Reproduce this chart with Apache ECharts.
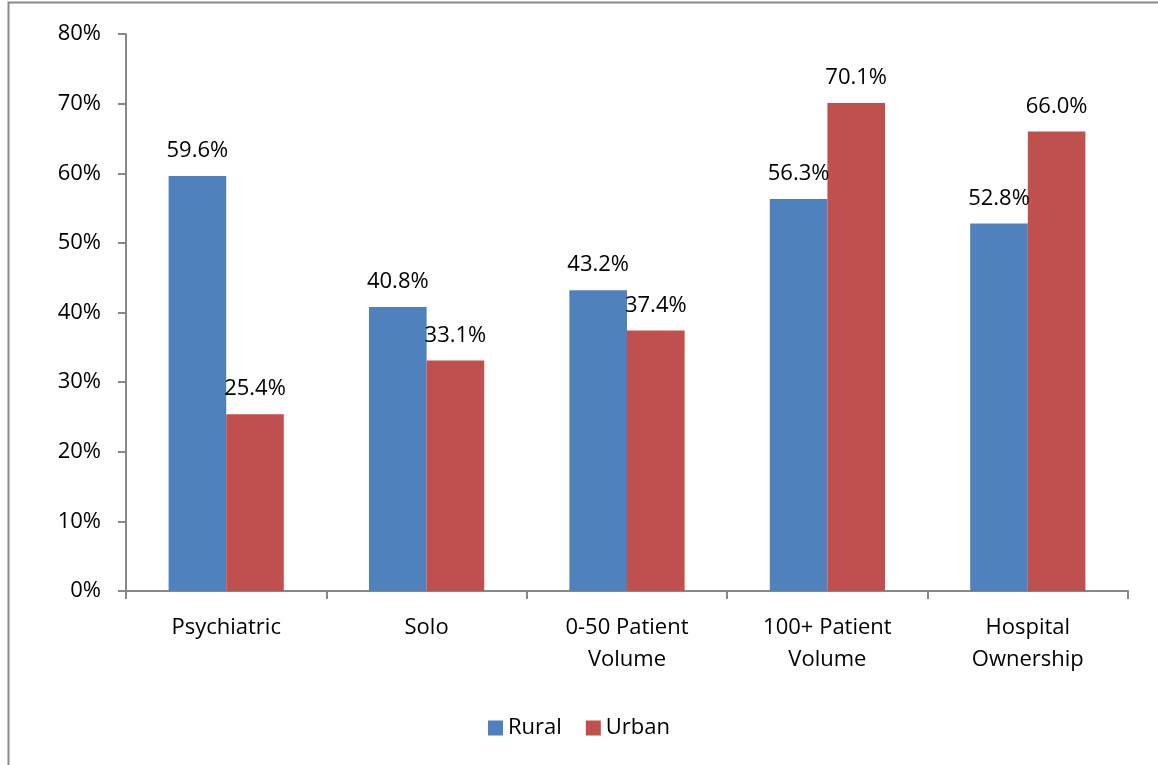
<!DOCTYPE html>
<html>
<head>
<meta charset="utf-8">
<script src="https://cdn.jsdelivr.net/npm/echarts@6/dist/echarts.min.js"></script>
<style>
  html, body { margin: 0; padding: 0; background: #fff; }
  #chart { width: 1158px; height: 765px; }
</style>
</head>
<body>
<div id="chart"></div>
<script>
// Categories and shares (percent) by practice location
const categories = ['Psychiatric', 'Solo', '0-50 Patient\nVolume', '100+ Patient\nVolume', 'Hospital\nOwnership'];
const rural = [59.6, 40.8, 43.2, 56.3, 52.8];
const urban = [25.4, 33.1, 37.4, 70.1, 66.0];
const seriesNames = ['Rural', 'Urban'];
const yTicks = { min: 0, max: 80, interval: 10 };

const FONT = '"Open Sans", Lato, sans-serif';
const FS = 22;
const chart = echarts.init(document.getElementById('chart'), null, { renderer: 'canvas' });

const labelCfg = {
  show: true,
  position: 'top',
  distance: 14,
  color: '#000',
  fontFamily: FONT,
  fontSize: FS,
  formatter: p => p.value.toFixed(1) + '%'
};

chart.setOption({
  animation: false,
  backgroundColor: '#fff',
  textStyle: { fontFamily: FONT },
  graphic: [{
    type: 'rect',
    shape: { x: 8.5, y: 2.5, width: 1300, height: 900 },
    style: { fill: 'none', stroke: '#888', lineWidth: 2 },
    silent: true
  }],
  grid: { left: 126, right: 30, top: 34, bottom: 174, containLabel: false },
  legend: {
    bottom: 21,
    left: 'center',
    itemWidth: 15,
    itemHeight: 15,
    itemGap: 24,
    icon: 'rect',
    textStyle: { fontFamily: FONT, fontSize: FS, color: '#000' },
    data: seriesNames
  },
  xAxis: {
    type: 'category',
    data: categories,
    axisLine: { lineStyle: { color: '#888', width: 2 } },
    axisTick: { show: true, alignWithLabel: false, length: 8, lineStyle: { color: '#888', width: 2 } },
    axisLabel: { color: '#000', fontFamily: FONT, fontSize: FS, lineHeight: 32, margin: 21, interval: 0 }
  },
  yAxis: {
    type: 'value',
    min: yTicks.min,
    max: yTicks.max,
    interval: yTicks.interval,
    axisLine: { show: true, lineStyle: { color: '#888', width: 2 } },
    axisTick: { show: true, length: 8, lineStyle: { color: '#888', width: 2 } },
    splitLine: { show: false },
    axisLabel: { color: '#000', fontFamily: FONT, fontSize: FS, margin: 25, formatter: v => v + '%' }
  },
  series: [
    {
      name: seriesNames[0], type: 'bar', data: rural,
      barGap: '0%', barCategoryGap: '42.5%',
      itemStyle: { color: '#4F81BD' },
      label: labelCfg
    },
    {
      name: seriesNames[1], type: 'bar', data: urban,
      barGap: '0%', barCategoryGap: '42.5%',
      itemStyle: { color: '#C0504D' },
      label: labelCfg
    }
  ]
});
</script>
</body>
</html>
